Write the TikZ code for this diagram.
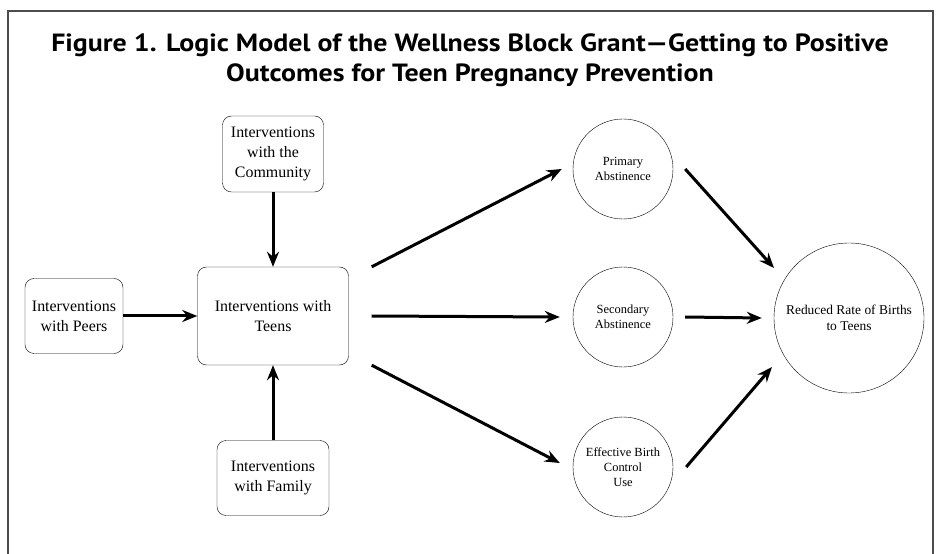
\documentclass[tikz,border=0pt]{standalone}
\usepackage{fontspec}
\setmainfont{Liberation Serif}
\newfontfamily\titlefont{PT Sans}[FakeStretch=1.12]
\usetikzlibrary{arrows.meta}

\begin{document}
\begin{tikzpicture}[x=1bp, y=-1bp,
    box/.style={draw, rounded corners=9bp, align=center, inner sep=0pt,
        font=\fontsize{16}{20}\selectfont},
    goal/.style={draw, circle, align=center, inner sep=0pt, minimum size=100bp,
        font=\fontsize{12.5}{15}\selectfont},
    arr/.style={line width=3bp, -{Stealth[length=15bp, width=12bp]}}]

    % 枠の描画
    \useasboundingbox (0,0) rectangle (938,554);
    \draw [line width=2bp, black!70] (8,554) -- (8,11) -- (933,11) -- (933,554);

    % タイトル
    \node (title) [align=center, font=\titlefont\bfseries\fontsize{25}{30}\selectfont] at (470,60)
        {Figure 1. Logic Model of the Wellness Block Grant—Getting to Positive\\
         Outcomes for Teen Pregnancy Prevention};

    % 四角形のノード
    \node (teens) [box, minimum width=151bp, minimum height=98bp] at (273,316)
        {Interventions with\\Teens};
    \node (community) [box, minimum width=101bp, minimum height=76bp] at (273,154)
        {Interventions\\with the\\Community};
    \node (peers) [box, minimum width=98bp, minimum height=75bp] at (74,316)
        {Interventions\\with Peers};
    \node (family) [box, minimum width=112bp, minimum height=75bp] at (273,478)
        {Interventions\\with Family};

    % 円のノード
    \node (primary) [goal] at (623,169) {Primary\\Abstinence};
    \node (secondary) [goal] at (623,317) {Secondary\\Abstinence};
    \node (effective) [goal] at (623,467) {Effective Birth\\Control\\Use};
    \node (reduced) [goal, minimum size=150bp, font=\fontsize{13.5}{16}\selectfont] at (849,318)
        {Reduced Rate of Births\\to Teens};

    % 矢印の描画
    \draw [arr] (community) -- (teens);
    \draw [arr] (family) -- (teens);
    \draw [arr] (peers) -- (teens);

    \draw [arr] ([xshift=23bp]teens.north east) -- ([xshift=-11bp]primary.west);
    \draw [arr] ([xshift=23bp]teens.east) -- ([xshift=-13bp]secondary.west);
    \draw [arr] ([xshift=23bp]teens.south east) -- ([xshift=-13bp, yshift=4bp]effective.west);

    \draw [arr] ([xshift=12bp]primary.east) -- ([xshift=-75bp, yshift=50bp]reduced.center);
    \draw [arr] ([xshift=12bp]secondary.east) -- ([xshift=-12bp]reduced.west);
    \draw [arr] ([xshift=13bp]effective.east) -- ([xshift=-77bp, yshift=-49bp]reduced.center);

\end{tikzpicture}
\end{document}
